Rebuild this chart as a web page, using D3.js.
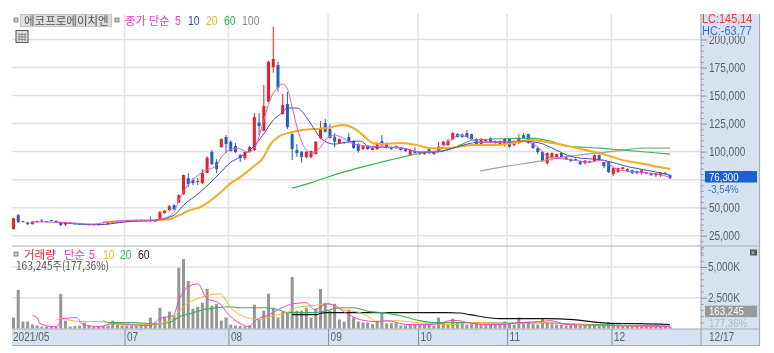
<!DOCTYPE html>
<html>
<head>
<meta charset="utf-8">
<title>에코프로에이치엔</title>
<script src="https://cdn.jsdelivr.net/npm/d3@7"></script>
<style>
  html, body { margin: 0; padding: 0; background: #fff; }
  svg { display: block; filter: blur( 0.3px ); }
  text { font-family: "Liberation Sans", sans-serif; }
  .kr { font-family: "Noto Sans CJK KR", sans-serif; }
  .axis path { display: none; }
  .axis line { stroke: #8a8f96; }
  .axis text { font-size: 12px; fill: #5c6168; }
</style>
</head>
<body>
<svg id="chart" width="774" height="353"></svg>
<script>
/* global d3 */

var width = 774,
  height = 353;

// Daily candles, in thousands of won

var candleOpen = [
  30.8, 43.3, 37.9, 36.8, 35.3, 37, 38.6, 37.4, 38.8, 38.3,
  37, 35, 36.4, 36, 36, 35.4, 35.2, 34.7, 35.3, 34.8,
  35.3, 36.2, 36.6, 37.3, 38.4, 37.8, 38.6, 38.8, 38.4, 38.6,
  38.4, 40, 45.1, 47.8, 52.2, 54.6, 62, 76.3, 74.6, 72.8,
  71.9, 81, 99.8, 90.6, 104, 113, 108.8, 104.9, 96.9, 94.2,
  99.6, 101.4, 126, 118.6, 144.5, 175.5, 177.3, 133.5, 142.4, 115.6,
  101.4, 99.8, 95.1, 95, 97.8, 112, 125.5, 120.1, 113.2, 107.6,
  108.5, 113, 109.6, 106.7, 102.2, 104.9, 101.4, 102.2, 109.4, 107.6,
  104, 103.1, 103.1, 102.2, 97, 100.5, 99.6, 97.8, 102.2, 97.8,
  100.7, 106, 105.8, 111, 115.6, 115.2, 116.5, 115.6, 111.2, 105.8,
  109.4, 112, 107.6, 109.4, 106, 111.2, 105.8, 107.6, 114.7, 115.6,
  107.6, 103.1, 99.8, 89.7, 95.1, 95.1, 98.7, 93.3, 93.3, 93.3,
  91.5, 89.7, 91.5, 91.5, 96.9, 90.6, 90.8, 79.9, 81.7, 84.4,
  84.4, 83.5, 82.6, 80.8, 81.2, 80.8, 79, 79, 81.2, 79
];

var candleHigh = [
  40.6, 44.2, 38.2, 37, 37.9, 38.4, 39.8, 38.2, 39.4, 38.6,
  37.2, 37, 36.8, 36.6, 36.4, 35.8, 35.6, 35.5, 35.6, 35.8,
  36.8, 37.5, 38, 38.4, 38.8, 39, 39.4, 39.4, 39, 42,
  39, 47, 47.8, 52.5, 53, 62, 79.5, 80.8, 76.3, 76.3,
  84.4, 95.8, 101.4, 93.3, 111.8, 114.7, 110, 107.6, 97.8, 100,
  105, 134.4, 134.4, 159.4, 181, 211.5, 180.2, 151.4, 153.4, 116.5,
  106.7, 100.5, 100.5, 101, 109.5, 127.2, 129.1, 124.5, 116.5, 112,
  109, 116.5, 110, 107.5, 105.5, 105.5, 103.6, 108.2, 114.7, 108.2,
  104.5, 105.5, 103.8, 102.8, 102, 104, 100, 100, 103, 100,
  108.8, 109.5, 111.2, 117.5, 116.5, 116, 119.2, 116, 112, 112,
  110.6, 112.6, 110, 110, 112, 112, 110, 115.6, 116.5, 116,
  108, 104, 100.5, 99.4, 99.2, 98.2, 99.2, 96, 94, 93.8,
  92, 92.4, 92, 97.4, 97.4, 91, 91.3, 85.8, 85.8, 86.2,
  85, 84, 83, 83.5, 82, 81.4, 81, 81.7, 81.8, 79.6
];

var candleLow = [
  30.8, 36.2, 37, 34.4, 35, 36.8, 37.3, 37.2, 38, 36.4,
  33.6, 33.5, 35.6, 35.4, 34.6, 34.6, 34.5, 34.4, 34.4, 34.6,
  35, 35.9, 36.4, 37, 37.6, 37.6, 37.8, 37.8, 37.6, 37.8,
  37.4, 39.5, 44.8, 47.5, 47.8, 54, 61.5, 68.3, 70.1, 70.1,
  71, 80.8, 87.9, 80.8, 103.5, 98.7, 100, 98.7, 90.6, 92.4,
  99, 100.5, 114.7, 118, 144, 170.4, 153.4, 133, 120, 92.4,
  95.4, 90, 94, 94.2, 97.5, 111, 117, 111.5, 104, 107,
  107, 107.6, 102.5, 99, 101.5, 101.5, 101, 101.5, 105, 103,
  101.6, 102.5, 100.8, 99.8, 96.5, 98.2, 97.2, 97.2, 97.6, 97.2,
  100, 105.4, 105, 110.5, 112.4, 112.4, 112.4, 110.5, 105, 105,
  108.8, 107.8, 107, 105.2, 104.5, 103.5, 105, 106.8, 111.5, 107,
  102.5, 97.8, 91, 88.5, 92, 93.3, 94.6, 92.5, 91, 91.6,
  88, 88.5, 89.6, 91, 91.8, 85.3, 81, 78.1, 81.2, 84,
  82, 80.2, 79.8, 79.6, 80, 78.6, 77.5, 77.4, 79.8, 75.6
];

var candleClose = [
  40.6, 37, 37.3, 35.3, 37.6, 38.2, 37.5, 38, 38.2, 36.8,
  34.4, 36.5, 36, 35.8, 35, 34.9, 34.8, 35.2, 34.8, 35.4,
  36.4, 37.2, 37.5, 38, 37.9, 38.6, 38.2, 38.2, 38, 38.2,
  37.9, 46, 47.4, 51.3, 48.7, 61.2, 79, 71, 71.9, 73.7,
  80.8, 94.5, 88.8, 84.4, 111.2, 106.7, 100.5, 99.6, 94.2, 99.6,
  104, 130.8, 122.8, 140.6, 180.2, 182.6, 157, 141.5, 121.9, 102.2,
  98.7, 95.1, 99.8, 100.5, 108.8, 121, 117.7, 112.2, 108.8, 111.2,
  107.6, 109.4, 103.1, 100.7, 104.9, 102.2, 103.1, 107.6, 105.8, 104,
  102.2, 104.9, 101.4, 100.5, 101.4, 98.7, 97.8, 99.6, 98.7, 99.6,
  104.3, 108.8, 109.4, 116.5, 113, 113, 113, 111.2, 105.8, 111.2,
  110.3, 108.5, 109.4, 105.8, 111.2, 104.3, 109.4, 112.3, 112, 107.6,
  103.1, 99.6, 91.5, 98.7, 98.7, 97.8, 95.1, 95.1, 91.5, 92,
  88.8, 92, 90.2, 96.9, 92.4, 87, 81.7, 85.3, 85.3, 86,
  82.6, 80.8, 80.8, 83.5, 80.6, 79, 80.8, 81.2, 80.4, 76.3
];

// Daily volume, in thousands of shares

var volume = [
  890, 3140, 560, 560, 320, 240, 160, 160, 160, 120,
  2820, 640, 160, 200, 240, 480, 200, 160, 160, 200,
  240, 640, 320, 240, 240, 240, 240, 320, 360, 890,
  480, 1690, 970, 1370, 1050, 4920, 5640, 3870, 1610, 1770,
  2100, 3220, 1850, 2010, 640, 890, 320, 240, 200, 160,
  240, 1930, 730, 1450, 2820, 1690, 890, 1370, 1290, 4190,
  1450, 1450, 1690, 890, 1610, 3220, 2100, 1450, 2010, 730,
  560, 1530, 890, 560, 480, 480, 360, 640, 1290, 400,
  440, 440, 240, 240, 320, 320, 320, 320, 320, 240,
  890, 480, 320, 800, 480, 480, 320, 400, 480, 320,
  280, 360, 320, 280, 560, 400, 320, 890, 400, 560,
  360, 320, 800, 480, 360, 320, 320, 240, 280, 320,
  240, 280, 240, 360, 280, 320, 480, 400, 320, 240,
  280, 240, 280, 240, 200, 240, 240, 200, 200, 163
];

// Moving averages as [ candle index, value ] vertices

var priceMa5 = [
  [4,37.3],[10,37],[13,36.2],[17,35.3],[19,36.6],[25,38.8],[30,38.8],[32,40.6],[34,46],[35,56.7],
  [37,70.1],[40,81.7],[43,88],[44,95.1],[45,99.6],[47.5,103.1],[49.5,99.6],[51,103.1],[53,128.1],[54.3,146],
  [55.8,156.7],[57,160.3],[58,155.8],[59,139.7],[60.2,119.2],[62,101.4],[63.4,98.7],[65,104],[66.4,112],[68,114.7],
  [69.8,112],[72,106.7],[75.5,104.9],[79,104],[82.5,103.1],[86,99.6],[89.7,100.5],[91.8,107.6],[94.5,114.7],[96,113],
  [97.3,110.3],[98.3,108.5],[104.5,108.5],[107.2,109.4],[109,108.5],[111.5,102.2],[113.2,95.1],[115,94.2],[118.5,92.4],[122,90.6],
  [124.8,92.4],[126.3,87.9],[128.4,83.5],[132.6,81.7],[136.2,79.9],[139,77.2]
];

var priceMa10 = [
  [9,37],[14,35.3],[18,34.8],[25,37.9],[30,38.8],[34,43.3],[36,52.2],[39.5,63.8],[43.7,80.8],[46,90.6],
  [48,95.1],[50.7,104],[52.8,114.7],[55,128.1],[56.8,134.4],[58,138.9],[60,138.9],[62,130.8],[63.4,121.9],[65.5,110.3],
  [68,106.7],[70.6,108.5],[73.4,109.4],[75.5,104],[79,104],[82.5,103.1],[86,99.6],[89.7,99.6],[93,103.1],[98.8,108.5],
  [104.5,108.5],[107.2,109.4],[111.5,107.6],[113.6,104],[118.5,95.1],[124.8,92.4],[130.5,86.2],[136.2,81.7],[139,79]
];

var priceMa20 = [
  [19,37],[23.5,37.9],[33,39.7],[34.6,42.4],[37.4,47.8],[39.5,50.4],[43.7,63],[46,71.9],[48,77.2],[50.7,86.2],
  [52.8,94.2],[54.3,105.8],[56,113],[59,117.4],[63.4,120.1],[66.4,121],[69.6,123.7],[72,121],[74,114.7],[76.1,107.6],
  [78.2,106.7],[81.8,107.6],[85.5,105.8],[88.2,103.1],[91.8,103.1],[94.5,104.5],[97.3,105.8],[101.5,105.8],[107.2,108.5],[109.4,110.3],
  [114.2,107.6],[122,100.5],[125.6,96.9],[129,92.4],[132.6,89.7],[139,84.4]
];

var priceMa60 = [
  [59,67.4],[63.4,72.8],[69.8,81.7],[77,89.7],[83.3,96],[87.6,99.6],[91.8,101.4],[94.5,105.8],[97.3,110.3],[101.5,111.2],
  [109.4,112],[113.6,109.4],[117.2,104.9],[124.2,103.1],[129,101.4],[134,99.6],[139,97.8]
];

var priceMa100 = [
  [98.8,82.9],[104.5,87],[111.5,91.5],[115,94.2],[121.4,97.8],[125.6,99.6],[129,101.4],[134,103.1],[139,103.1]
];

var volumeMa5 = [
  [4,1050],[5,885],[5.6,400],[8.4,160],[9.2,160],[10.3,805],[13.4,885],[14.7,320],[18.3,160],[21,400],
  [25.3,300],[28.9,240],[31,805],[33.8,1050],[35.2,2500],[36.7,3305],[39,3630],[41,2420],[43,2175],[43.7,2015],
  [45.2,1290],[48,400],[49.7,160],[51.5,725],[53.7,1050],[56.4,1610],[59.2,2015],[62,2095],[63.8,1530],[66.4,2015],
  [68,1850],[70.6,1210],[73.4,725],[77,560],[79,640],[83.3,320],[87.6,320],[90.3,400],[92.4,640],[94,640],
  [96.2,480],[99.4,320],[103,320],[107.2,480],[111.5,560],[113.6,640],[117.2,320],[125.6,240],[139,160]
];

var volumeMa10 = [
  [8.9,640],[9.8,805],[14,560],[19,560],[20.4,400],[25.3,300],[31,400],[33.1,640],[34.6,1210],[36.7,2015],
  [39.5,2500],[41.6,2740],[43.7,2820],[46,1690],[49.5,885],[52.2,725],[55,1050],[57.9,1290],[60.6,1770],[63.4,1850],
  [66.4,2015],[68,1850],[69.8,1530],[73.4,1290],[75.5,885],[77,560],[80.4,640],[87.6,400],[92.4,320],[97.3,480],
  [100.2,480],[104.5,400],[111.5,480],[118.5,320],[139,160]
];

var volumeMa20 = [
  [19,640],[20.4,480],[25.3,480],[30.4,380],[33.1,510],[35.2,970],[37.4,1210],[40.1,1530],[43,1690],[45.8,1770],
  [48,1690],[50.7,1690],[52.8,1690],[55.4,1610],[58,1290],[60.6,1290],[63.4,1290],[66.4,1450],[69.1,1690],[71.9,1690],
  [75.5,1370],[78.2,1290],[81.8,1050],[86,640],[88.8,480],[92.4,480],[97.3,480],[104.5,440],[111.5,480],[118.5,360],
  [139,200]
];

var volumeMa60 = [
  [59,1130],[64.3,1130],[65,1250],[66.4,1290],[91.8,1290],[94.5,1260],[96.6,1130],[103,805],[113,805],[118.5,725],
  [124.2,480],[127,420],[132.6,400],[139,320]
];

// Tick labels

var priceTicks = [ 25, 50, 75, 100, 125, 150, 175, 200 ];
var volumeTicks = [ 2500, 5000 ];
var monthPositions = [ 23.5, 45.5, 66.6, 85.65, 104.5, 126.6 ];
var monthLabels = [ "07", "08", "09", "10", "11", "12" ];

var svg = d3.select( "#chart" );

var xScale = d3.scaleLinear()
  .domain( [ 0, 139 ] )
  .range( [ 13.5, 670 ] );

var priceScale = d3.scaleLinear()
  .domain( [ 25, 200 ] )
  .range( [ 235.7, 39.5 ] );

var volumeScale = d3.scaleLinear()
  .domain( [ 0, 5000 ] )
  .range( [ 328.5, 267 ] );

// Drawing panels

svg.append( "rect" )
  .attr( "x", 701 )
  .attr( "y", 14 )
  .attr( "width", 58 )
  .attr( "height", 331 )
  .attr( "fill", "#d6e2f0" );

svg.append( "rect" )
  .attr( "x", 12 )
  .attr( "y", 329 )
  .attr( "width", 689 )
  .attr( "height", 16 )
  .attr( "fill", "#d6e2f0" );

// Drawing grid

svg.selectAll( "line.hGrid" )
  .data( priceTicks )
  .enter().append( "line" )
    .attr( "class", "hGrid" )
    .attr( "x1", 12 )
    .attr( "x2", 701 )
    .attr( "y1", d => priceScale( d ) )
    .attr( "y2", d => priceScale( d ) )
    .attr( "stroke", "#e0e0e0" )
    .attr( "stroke-width", 1.5 );

svg.selectAll( "line.vGrid" )
  .data( volumeTicks )
  .enter().append( "line" )
    .attr( "class", "vGrid" )
    .attr( "x1", 12 )
    .attr( "x2", 701 )
    .attr( "y1", d => volumeScale( d ) )
    .attr( "y2", d => volumeScale( d ) )
    .attr( "stroke", "#e0e0e0" )
    .attr( "stroke-width", 1.5 );

svg.selectAll( "line.monthGrid" )
  .data( monthPositions )
  .enter().append( "line" )
    .attr( "class", "monthGrid" )
    .attr( "x1", d => xScale( d ) )
    .attr( "x2", d => xScale( d ) )
    .attr( "y1", 14 )
    .attr( "y2", 329 )
    .attr( "stroke", "#e4e4e4" )
    .attr( "stroke-width", 1.6 );

// Drawing panel borders

[ [ 12, 246, 759, 246 ], [ 12, 329, 759, 329 ], [ 12, 345.5, 759, 345.5 ], [ 701, 14, 701, 345 ], [ 759.5, 14, 759.5, 346 ] ]
  .forEach( d => {
    svg.append( "line" )
      .attr( "x1", d[ 0 ] )
      .attr( "y1", d[ 1 ] )
      .attr( "x2", d[ 2 ] )
      .attr( "y2", d[ 3 ] )
      .attr( "stroke", "#a9adb3" )
      .attr( "stroke-width", 1.2 );
  } );

// Drawing volume bars

svg.selectAll( "rect.volumeBar" )
  .data( volume )
  .enter().append( "rect" )
    .attr( "class", "volumeBar" )
    .attr( "x", ( d, i ) => xScale( i ) - 1.5 )
    .attr( "y", d => volumeScale( d ) )
    .attr( "width", 3 )
    .attr( "height", d => volumeScale( 0 ) - volumeScale( d ) )
    .attr( "fill", "#969696" );

// Drawing candles

var candleUp = "#f01e1e",
  candleDown = "#1d5fd0";

var candles = svg.selectAll( "g.candle" )
  .data( candleClose )
  .enter().append( "g" )
    .attr( "class", "candle" )
    .attr( "stroke", ( d, i ) => d >= candleOpen[ i ] ? candleUp : candleDown )
    .attr( "fill", ( d, i ) => d >= candleOpen[ i ] ? candleUp : candleDown );

candles.append( "line" )
  .attr( "x1", ( d, i ) => xScale( i ) )
  .attr( "x2", ( d, i ) => xScale( i ) )
  .attr( "y1", ( d, i ) => priceScale( candleHigh[ i ] ) )
  .attr( "y2", ( d, i ) => priceScale( candleLow[ i ] ) )
  .attr( "stroke-width", 1 );

candles.append( "rect" )
  .attr( "x", ( d, i ) => xScale( i ) - 1.5 )
  .attr( "y", ( d, i ) => priceScale( Math.max( d, candleOpen[ i ] ) ) )
  .attr( "width", 3 )
  .attr( "height", ( d, i ) => Math.max( 1, Math.abs( priceScale( d ) - priceScale( candleOpen[ i ] ) ) ) )
  .attr( "stroke", "none" );

// Drawing moving averages

function drawLine( points, yScale, color, strokeWidth ) {

  var line = d3.line()
    .x( d => xScale( d[ 0 ] ) )
    .y( d => yScale( d[ 1 ] ) )
    .curve( d3.curveMonotoneX );

  svg.append( "path" )
    .datum( points )
    .attr( "d", line )
    .attr( "fill", "none" )
    .attr( "stroke", color )
    .attr( "stroke-width", strokeWidth );

}

drawLine( priceMa100, priceScale, "#a0a0a0", 1.2 );
drawLine( priceMa60, priceScale, "#2fb45c", 1.1 );
drawLine( priceMa20, priceScale, "#f2ac1c", 2 );
drawLine( priceMa10, priceScale, "#3b4fc4", 1 );
drawLine( priceMa5, priceScale, "#ee55cc", 1 );

drawLine( volumeMa60, volumeScale, "#111111", 1.1 );
drawLine( volumeMa20, volumeScale, "#2fb45c", 1.1 );
drawLine( volumeMa10, volumeScale, "#f5b52a", 1 );
drawLine( volumeMa5, volumeScale, "#ee44c4", 1 );

// Drawing axes, the 75,000 label sits under the current price tag in the reference

svg.append( "g" )
  .attr( "class", "axis" )
  .attr( "transform", "translate(701,0)" )
  .call( d3.axisRight( priceScale ).tickValues( priceTicks ).tickSize( 6 ).tickPadding( 2 )
    .tickFormat( d => d === 75 ? "" : d3.format( "," )( d * 1000 ) ) );

svg.append( "g" )
  .attr( "class", "axis" )
  .attr( "transform", "translate(701,0)" )
  .call( d3.axisRight( priceScale ).tickValues( d3.range( 10, 210, 5 ).filter( d => d % 25 !== 0 ) ).tickSize( 2.5 ).tickFormat( "" ) );

svg.append( "g" )
  .attr( "class", "axis" )
  .attr( "transform", "translate(701,0)" )
  .call( d3.axisRight( volumeScale ).tickValues( volumeTicks ).tickSize( 6 ).tickPadding( 1 )
    .tickFormat( d => d3.format( "," )( d ) + "K" ) );

svg.append( "g" )
  .attr( "class", "axis" )
  .attr( "transform", "translate(701,0)" )
  .call( d3.axisRight( volumeScale ).tickValues( [ 500, 1000, 1500, 2000, 3000, 3500, 4000, 4500, 5500, 6000, 6500 ] ).tickSize( 2.5 ).tickFormat( "" ) );

var dateAxis = svg.append( "g" )
  .attr( "class", "axis" )
  .attr( "transform", "translate(0,329)" )
  .call( d3.axisBottom( xScale ).tickValues( monthPositions ).tickSize( 16 )
    .tickFormat( ( d, i ) => monthLabels[ i ] ) );

dateAxis.selectAll( "text" )
  .attr( "x", 2 )
  .attr( "y", 3 )
  .attr( "text-anchor", "start" );

// Drawing text labels

function label( x, y, text, color, size, cls ) {

  return svg.append( "text" )
    .attr( "class", cls || null )
    .attr( "x", x )
    .attr( "y", y )
    .attr( "fill", color )
    .style( "font-size", size + "px" )
    .text( text );

}

function bullet( x, y ) {

  svg.append( "rect" )
    .attr( "x", x )
    .attr( "y", y )
    .attr( "width", 4 )
    .attr( "height", 4 )
    .attr( "fill", "#c9c9c9" )
    .attr( "stroke", "#777" )
    .attr( "stroke-width", 0.8 );

}

label( 13, 341, "2021/05", "#5c6168", 12 );
label( 709, 341, "12/17", "#5c6168", 12 );

// Title row

bullet( 14, 18 );
svg.append( "rect" )
  .attr( "x", 20.5 )
  .attr( "y", 14.5 )
  .attr( "width", 91 )
  .attr( "height", 12 )
  .attr( "fill", "#dedede" )
  .attr( "stroke", "#c4c4c4" );
label( 24, 25, "에코프로에이치엔", "#555", 11.5, "kr" );
bullet( 115, 18 );
label( 125, 25, "종가 단순", "#e83cc8", 11.5, "kr" );
label( 175, 25, "5", "#e83cc8", 12.5 );
label( 188, 25, "10", "#2c46c4", 12.5 );
label( 206, 25, "20", "#f5b52a", 12.5 );
label( 224, 25, "60", "#2fb45c", 12.5 );
label( 242, 25, "100", "#8a8a8a", 12.5 );

// Small table icon

svg.append( "rect" )
  .attr( "x", 16 )
  .attr( "y", 30.5 )
  .attr( "width", 12 )
  .attr( "height", 12 )
  .attr( "fill", "#dcdcdc" )
  .attr( "stroke", "#555" );

d3.range( 3 ).forEach( i => {
  svg.append( "line" ).attr( "x1", 19 + i * 3 ).attr( "x2", 19 + i * 3 ).attr( "y1", 33 ).attr( "y2", 41 ).attr( "stroke", "#777" ).attr( "stroke-width", 0.7 );
  svg.append( "line" ).attr( "x1", 18 ).attr( "x2", 26 ).attr( "y1", 34.5 + i * 2.5 ).attr( "y2", 34.5 + i * 2.5 ).attr( "stroke", "#777" ).attr( "stroke-width", 0.7 );
} );

// Volume legend

bullet( 14, 252 );
label( 24, 259, "거래량", "#ee2233", 11.5, "kr" );
label( 64, 259, "단순", "#e83cc8", 11.5, "kr" );
label( 89, 259, "5", "#e83cc8", 12.5 );
label( 103, 259, "10", "#f5b52a", 12.5 );
label( 120, 259, "20", "#2fb45c", 12.5 );
label( 138, 259, "60", "#222", 12.5 );
label( 16, 270, "163,245주(177,36%)", "#555", 11.5, "kr" )
  .attr( "textLength", 93 )
  .attr( "lengthAdjust", "spacingAndGlyphs" );

// Right side readouts, the top box hides the upper half of the 200,000 label

svg.append( "rect" )
  .attr( "x", 702 )
  .attr( "y", 14 )
  .attr( "width", 57 )
  .attr( "height", 22 )
  .attr( "fill", "#d6e2f0" );

label( 702, 23, "LC:145,14", "#ee3b3b", 13 );
label( 702, 35, "HC:-63,77", "#3a6fd8", 13 );

svg.append( "rect" )
  .attr( "x", 705 )
  .attr( "y", 171 )
  .attr( "width", 52 )
  .attr( "height", 11.5 )
  .attr( "fill", "#1d5fd0" );
label( 709, 180.5, "76,300", "#fff", 11.5 );
label( 708, 192.5, "-3,54%", "#3a6fd8", 11.5 );

svg.append( "rect" )
  .attr( "x", 705 )
  .attr( "y", 305.7 )
  .attr( "width", 52 )
  .attr( "height", 11.5 )
  .attr( "fill", "#999" );
label( 709, 315, "163,245", "#fff", 11.5 );
label( 709, 327, "177,36%", "#b4b4b4", 11.5 );

// Close button of the volume pane

svg.append( "rect" )
  .attr( "x", 750 )
  .attr( "y", 249.5 )
  .attr( "width", 7 )
  .attr( "height", 6 )
  .attr( "fill", "#555" );
label( 751, 255, "×", "#eee", 8 );

// The reference uses a narrow bitmap face, squeeze the latin labels to the same width

svg.selectAll( "text" )
  .filter( function() { return !this.classList.contains( "kr" ) && this.textContent !== ""; } )
  .each( function() {
    this.setAttribute( "textLength", this.getComputedTextLength() * 0.84 );
    this.setAttribute( "lengthAdjust", "spacingAndGlyphs" );
  } );
</script>
</body>
</html>
